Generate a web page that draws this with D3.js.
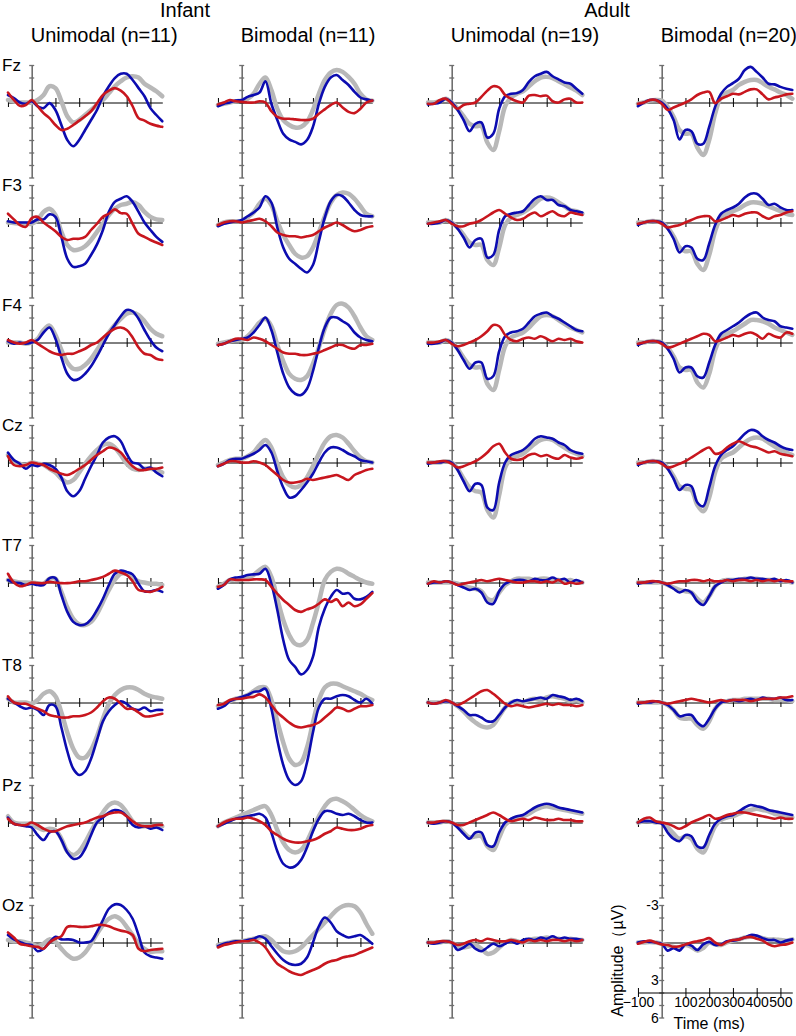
<!DOCTYPE html>
<html>
<head>
<meta charset="utf-8">
<script src="https://cdn.jsdelivr.net/npm/d3@7"></script>
<style>
  body { margin: 0; background: #fff; }
  svg { display: block; font-family: "Liberation Sans", Arial, sans-serif; }
</style>
</head>
<body>
<svg id="chart" width="796" height="1036"></svg>
<script>
// time points (ms) shared by every waveform
var times = [-100, -75, -50, -25, 0, 25, 50, 75, 100, 125, 150, 175, 200, 225, 250, 275, 300, 325, 350, 375, 400, 425, 450, 475, 500, 525, 550];
var electrodes = ["Fz", "F3", "F4", "Cz", "T7", "T8", "Pz", "Oz"];
var groupTitles = ["Unimodal (n=11)", "Bimodal (n=11)", "Unimodal (n=19)", "Bimodal (n=20)"];
var ageTitles = ["Infant", "Adult"];
var xTicks = [-100, 100, 200, 300, 400, 500];
var ampLabels = [-3, 3, 6];

// amplitudes in µV (negative up), one row per electrode
var infUniGray = [
  [-0.2,-0.1,0,0,0,-0.2,-0.6,-1.3,-1.15,-0.1,1.1,1.6,1.4,1.0,0.6,0.2,-0.2,-0.75,-1.3,-1.7,-2.0,-2.1,-2.0,-1.5,-1.2,-0.9,-0.5],
  [0,0.05,0.1,0.1,0.1,-0.2,-0.85,-1.1,-0.6,0.75,1.8,2.2,2.15,1.9,1.4,0.75,0.1,-0.6,-1.1,-1.4,-1.5,-1.65,-1.4,-0.85,-0.45,-0.25,-0.2],
  [0,0,0,0.1,0,-0.3,-1.0,-1.35,-0.6,0.6,1.6,2.1,2.1,1.8,1.3,0.6,-0.1,-0.8,-1.4,-1.9,-2.3,-2.4,-2.2,-1.7,-1.1,-0.7,-0.5],
  [-0.6,-0.1,0.1,0.2,0,0.1,0.2,0.5,0.8,1.3,1.6,1.4,0.8,0.1,-0.5,-1.0,-1.4,-1.5,-1.2,-0.6,0.1,0.5,0.6,0.5,0.5,0.6,0.8],
  [-0.2,-0.1,0,0,0,0.05,0.1,-0.3,-0.3,0.75,2.0,2.9,3.35,3.4,3.15,2.5,1.55,0.6,-0.2,-0.7,-0.7,-0.4,-0.1,0,0.1,0.1,0.2],
  [-0.3,0,0,0,0.1,-0.2,-0.7,-0.9,-0.5,0.8,2.4,3.7,4.4,4.4,3.8,2.7,1.3,0.1,-0.6,-1.0,-1.2,-1.2,-1.0,-0.7,-0.5,-0.4,-0.3],
  [-0.5,0,0.1,0.1,0.1,0.4,0.6,0.5,0.6,1.3,2.3,2.6,2.3,1.6,0.7,-0.1,-0.8,-1.4,-1.6,-1.4,-0.8,-0.1,0.3,0.3,0.3,0.3,0.3],
  [-0.2,-0.1,-0.1,0,0.1,0.3,0.1,-0.25,-0.05,0.5,1.0,1.3,1.2,0.8,0.1,-0.7,-1.4,-1.9,-2.1,-1.85,-1.25,-0.6,0.1,0.5,0.75,0.7,0.7]
];
var infUniBlue = [
  [-0.6,-0.35,0,0.1,-0.1,0.3,0.45,0.05,0.6,1.8,3.0,3.5,3.0,2.2,1.4,0.6,-0.5,-1.3,-1.95,-2.3,-2.3,-1.8,-1.15,-0.5,0.45,1.0,1.5],
  [-0.1,0,0,0,0,-0.25,-0.25,-0.65,-0.45,1.15,2.9,3.55,3.5,3.3,2.6,1.75,0.6,-0.85,-1.65,-1.9,-2.1,-1.65,-0.85,0,0.6,1.15,1.55],
  [-0.1,0.1,0,0.1,0,-0.2,-0.8,-1.2,-0.3,1.2,2.5,3.0,2.9,2.5,1.9,1.1,0.2,-0.7,-1.4,-2.1,-2.6,-2.5,-1.9,-1.0,-0.2,0.4,0.7],
  [-0.8,-0.2,0.1,0.5,0.2,0.3,0.1,0.2,0.5,1.2,2.3,2.7,2.3,1.3,0.3,-0.6,-1.6,-2.0,-2.1,-1.7,-0.7,0,0.1,0.5,0.4,0.8,1.1],
  [-0.2,0,0.05,0.2,0.1,0.2,0.2,-0.35,-0.35,1.0,2.35,3.15,3.4,3.35,2.95,2.2,1.3,0.2,-0.7,-0.95,-0.85,-0.65,0.1,0.7,0.7,0.6,0.75],
  [-0.3,0,0.3,0.5,0.4,0.6,1.0,0.2,0.3,2.0,3.9,5.3,5.8,5.5,4.5,3.0,1.5,0.7,0.2,-0.1,0.1,0.5,0.6,0.4,0.7,0.6,0.6],
  [-0.4,0.1,0.2,0.3,0.4,1.0,1.4,0.8,0.7,1.4,2.4,2.9,2.8,2.1,1.0,0,-0.4,-0.8,-1.0,-0.9,-0.5,0.2,0.4,0.3,0.5,0.4,0.6],
  [-0.6,-0.25,-0.05,0.15,0.2,0.7,0.5,0,-0.45,-0.25,-0.25,-0.2,0,0,-0.1,-0.85,-1.8,-2.7,-3.05,-3.0,-2.6,-1.9,-0.6,0.8,1.1,1.2,1.3]
];
var infUniRed = [
  [-0.8,-0.2,0.27,0.2,-0.2,0.3,0.85,1.25,1.8,2.2,2.1,1.8,1.45,1.1,0.7,0.05,-0.6,-0.95,-1.15,-0.95,-0.5,0.3,1.25,1.45,1.7,1.85,1.95],
  [-0.7,-0.25,0.2,0.35,-0.35,-0.45,0,0.35,0.7,1.15,1.4,1.3,1.3,1.15,0.6,0.1,-0.45,-0.7,-1.05,-0.75,-0.7,0.1,0.9,1.15,1.4,1.6,1.8],
  [-0.2,0,0.1,0,-0.2,0.1,0.4,0.7,0.9,1.0,0.9,0.9,0.7,0.5,0.2,0,-0.4,-0.8,-1.1,-1.2,-1.0,-0.4,0.4,0.9,1.0,1.3,1.4],
  [-0.5,0.2,0.3,0.2,0,0.1,0.2,0.5,0.7,0.9,1.0,0.8,0.5,0.2,-0.2,-0.6,-0.9,-1.2,-1.1,-0.8,-0.2,0.3,0.6,0.6,0.5,0.5,0.4],
  [-0.7,0,0.3,0.2,0,0.05,0.05,-0.05,0,0.05,0.05,0,-0.1,-0.1,-0.2,-0.3,-0.45,-0.7,-0.95,-0.8,-0.6,-0.1,0.6,0.7,0.75,0.6,0.35],
  [-0.5,0,0.1,0.1,0.3,0.5,0.7,1.0,1.1,1.2,1.2,1.1,1.1,1.0,0.8,0.4,-0.1,-0.4,-0.3,0.1,0.5,0.5,0.8,1.1,1.1,1.0,0.9],
  [-0.3,0.1,0.2,0.2,0,0.2,0.5,0.7,0.7,0.5,0.3,0.2,0.1,0,-0.2,-0.4,-0.5,-0.7,-0.8,-0.8,-0.5,-0.1,0.2,0.3,0.3,0.2,0.2],
  [-0.8,-0.4,0.1,0.2,0.3,0.35,0.5,0,-0.3,-0.5,-1.25,-1.3,-1.25,-1.25,-1.3,-1.4,-1.4,-1.3,-1.1,-0.95,-0.85,-0.6,0.5,0.7,0.6,0.55,0.5]
];

var infBiGray = [
  [0.2,0.1,0,-0.1,-0.15,-0.3,-0.7,-1.5,-2.0,-1.0,0.5,1.4,1.8,2.0,1.95,1.55,0.6,-0.7,-1.8,-2.4,-2.6,-2.45,-2.05,-1.5,-0.7,-0.25,-0.15],
  [0.2,0,-0.1,-0.1,-0.1,-0.4,-0.8,-1.5,-1.9,-1.4,-0.1,1.0,1.8,2.5,2.8,2.7,2.0,0.8,-0.5,-1.6,-2.2,-2.4,-2.3,-1.9,-1.3,-0.7,-0.5],
  [0.1,0,-0.1,-0.2,-0.2,-0.5,-1.0,-1.6,-1.9,-1.3,0.2,1.5,2.5,2.9,3.0,2.7,1.7,0.4,-1.1,-2.3,-3.0,-3.1,-2.8,-2.1,-1.2,-0.5,-0.2],
  [0.2,0,-0.2,-0.3,-0.3,-0.5,-0.8,-1.4,-1.8,-1.2,0.1,1.2,1.8,2.0,1.8,1.2,0.3,-0.7,-1.6,-2.1,-2.2,-2.0,-1.5,-0.9,-0.4,-0.1,0],
  [0.35,0.1,-0.2,-0.25,-0.25,-0.4,-0.6,-1.0,-1.25,-0.45,1.3,3.0,4.2,4.9,5.0,4.6,3.25,1.55,-0.2,-0.85,-1.1,-1.0,-0.7,-0.45,-0.2,0,0.1],
  [0.3,0.1,-0.1,-0.3,-0.4,-0.6,-0.9,-1.2,-1.2,-0.2,1.5,3.2,4.5,5.0,4.8,3.6,1.6,-0.2,-1.2,-1.5,-1.5,-1.3,-1.1,-0.9,-0.7,-0.4,-0.2],
  [0.3,0,-0.2,-0.4,-0.6,-0.8,-1.0,-1.2,-1.3,-0.6,0.6,1.6,2.2,2.4,2.2,1.5,0.5,-0.5,-1.3,-1.8,-1.9,-1.7,-1.4,-1.0,-0.6,-0.3,-0.1],
  [0.2,0.1,0,-0.1,-0.1,-0.2,-0.3,-0.4,-0.5,-0.2,0.3,0.7,0.8,0.7,0.4,-0.1,-0.6,-1.1,-1.6,-2.1,-2.6,-2.9,-3.0,-2.9,-2.4,-1.5,-0.7]
];
var infBiBlue = [
  [0.3,0.1,0,-0.15,-0.2,-0.45,-0.6,-0.8,-1.7,0.1,1.4,2.5,2.95,3.15,3.35,3.0,1.95,0.1,-1.25,-2.0,-2.2,-1.8,-1.4,-0.85,-0.4,-0.25,-0.15],
  [0.3,0.1,0,-0.1,-0.2,-0.5,-0.8,-1.2,-2.1,-1.6,0.4,2.0,2.9,3.3,3.7,4.0,3.4,1.5,-0.4,-1.7,-2.2,-2.1,-1.6,-1.0,-0.6,-0.5,-0.5],
  [0.2,0.1,-0.1,-0.2,-0.3,-0.4,-0.8,-1.4,-2.0,-1.0,0.8,2.5,3.6,4.1,4.2,3.7,2.3,0.4,-1.2,-2.0,-2.0,-1.7,-1.4,-0.8,-0.4,-0.2,-0.1],
  [0.3,0.1,-0.2,-0.3,-0.3,-0.5,-0.7,-1.0,-1.4,-0.8,0.7,2.0,2.8,2.7,2.2,1.6,0.9,0,-0.8,-1.2,-1.2,-1.0,-0.7,-0.5,-0.2,-0.1,0],
  [0.5,0.2,-0.25,-0.4,-0.45,-0.6,-0.65,-0.7,-1.1,0.1,2.2,4.6,6.2,6.75,7.35,7.0,5.95,3.55,2.1,1.15,0.6,0.9,0.85,1.3,1.35,1.15,0.75],
  [0.5,0.3,-0.1,-0.3,-0.45,-0.6,-0.85,-0.9,-1.1,0.5,3.0,5.0,6.2,6.6,6.3,4.8,2.4,0.4,-0.3,-0.3,-0.5,-0.6,-0.5,-0.2,0,-0.3,0.1],
  [0.3,0.1,-0.1,-0.3,-0.4,-0.5,-0.6,-0.7,-0.4,0.8,2.3,3.3,3.6,3.5,3.0,2.0,0.7,-0.3,-0.9,-0.9,-0.7,-0.6,-0.7,-0.5,-0.2,0,0],
  [0.3,0.1,0,-0.1,-0.1,-0.2,-0.3,-0.5,-0.3,0.3,0.9,1.4,1.7,1.8,1.7,1.2,0,-1.3,-2.0,-1.6,-0.9,-0.6,-0.4,-0.5,-0.6,-0.3,0.1]
];
var infBiRed = [
  [0.15,0,-0.2,-0.1,-0.05,0,0,-0.1,0,0.7,1.15,1.3,1.3,1.35,1.4,1.4,1.3,0.9,0.55,0.2,0,0.4,0.75,0.85,0.5,0,-0.15],
  [0.2,0,-0.1,-0.1,0,-0.1,-0.2,-0.3,-0.1,0.3,0.8,1.0,1.1,1.1,1.2,1.1,1.0,0.7,0.4,0.2,0,0.2,0.5,0.7,0.6,0.4,0.3],
  [0.2,0.1,-0.1,-0.3,-0.3,-0.2,-0.4,-0.3,-0.1,0.2,0.5,0.8,0.9,0.9,1.0,1.0,0.9,0.8,0.6,0.4,0.2,0.2,0.4,0.5,0.2,0.2,0.1],
  [0.3,0.1,-0.1,-0.1,0,0,-0.1,0,0.2,0.6,1.0,1.4,1.6,1.6,1.5,1.3,1.4,1.3,1.2,1.1,1.0,1.2,1.4,1.0,0.8,0.6,0.5],
  [0.35,0.2,-0.25,-0.2,-0.2,-0.2,-0.25,-0.25,-0.2,0.35,0.9,1.4,1.8,2.2,2.35,2.15,2.0,1.7,1.35,1.55,1.35,1.9,1.6,1.9,1.75,1.3,0.85],
  [0.2,0.1,-0.2,-0.3,-0.3,-0.4,-0.45,-0.65,-0.4,0.2,0.8,1.2,1.6,1.9,2.0,1.9,1.8,1.6,1.2,0.8,0.4,0.5,0.7,0.5,0.3,0.3,0.2],
  [0.3,0,-0.2,-0.3,-0.3,-0.4,-0.3,-0.1,0.2,0.7,1.0,1.3,1.5,1.6,1.6,1.5,1.4,1.2,0.9,0.7,0.4,0.5,0.6,0.6,0.5,0.3,0.2],
  [0.4,0.2,0.1,0,-0.1,-0.1,-0.2,0,0.4,1.1,1.7,2.0,2.3,2.5,2.6,2.4,2.2,2.0,1.7,1.5,1.4,1.2,1.1,1.0,0.8,0.6,0.4]
];

var adUniGray = [
  [0,0,-0.1,-0.3,0,0.5,1.1,1.7,1.9,1.9,3.2,3.8,2.3,0.3,-0.4,-0.7,-0.9,-1.3,-1.7,-2.0,-2.05,-1.95,-1.7,-1.45,-1.2,-0.95,-0.6],
  [0,0,0,-0.2,0,0.4,1.0,1.6,1.8,1.8,3.0,3.4,2.0,0.2,-0.4,-0.6,-0.8,-1.1,-1.5,-1.9,-2.0,-1.9,-1.6,-1.3,-1.0,-0.9,-0.7],
  [0,0,0,-0.2,0,0.5,1.2,1.8,2.0,2.0,3.3,3.8,2.2,0.3,-0.4,-0.6,-0.8,-1.2,-1.7,-2.1,-2.2,-2.1,-1.8,-1.5,-1.2,-1.0,-0.8],
  [0,0,0,-0.1,0,0.5,1.3,2.0,2.3,2.4,3.8,4.4,2.6,0.4,-0.3,-0.5,-0.7,-1.1,-1.5,-1.8,-1.9,-1.8,-1.5,-1.2,-0.9,-0.7,-0.5],
  [0,0,0,0,0,0.1,0.3,0.4,0.5,0.7,1.3,1.4,0.8,0.2,-0.1,-0.3,-0.3,-0.3,-0.2,-0.3,-0.3,-0.2,-0.2,-0.1,-0.2,0,0],
  [0,0,0,-0.1,0,0.3,0.7,1.2,1.6,1.9,2.0,1.8,1.1,0.4,0,-0.1,0,-0.2,-0.3,-0.2,-0.4,-0.5,-0.4,-0.3,-0.1,-0.2,0],
  [0,0,0,-0.1,0,0.3,0.8,1.2,1.1,1.1,1.9,2.2,1.2,0.2,-0.2,-0.4,-0.5,-0.7,-1.0,-1.2,-1.3,-1.2,-1.1,-1.0,-0.9,-0.8,-0.7],
  [0,0,0,-0.1,0,0.3,0.4,0.3,0.2,0.5,0.9,0.8,0.4,0,-0.2,-0.1,0,-0.2,-0.3,-0.3,-0.4,-0.3,-0.3,-0.2,-0.3,-0.2,-0.2]
];
var adUniBlue = [
  [0.15,0.1,0,-0.3,0,0.6,1.4,2.3,1.7,1.6,2.8,2.5,0.5,-0.5,-0.7,-0.75,-1.0,-1.65,-2.1,-2.3,-2.45,-2.1,-1.85,-1.6,-1.5,-1.1,-0.7],
  [0.1,0.1,0,-0.2,0,0.5,1.2,2.0,1.4,1.3,2.8,2.6,0.6,-0.5,-0.7,-0.8,-0.9,-1.4,-1.9,-2.1,-1.8,-1.8,-1.4,-1.3,-1.0,-0.9,-0.8],
  [0.1,0.1,0,-0.2,0,0.6,1.4,2.1,1.6,1.6,2.9,2.7,0.7,-0.5,-0.8,-0.9,-1.1,-1.6,-2.1,-2.3,-2.4,-2.1,-1.9,-1.6,-1.3,-1.0,-0.9],
  [0.1,0,0,-0.1,0,0.6,1.5,2.3,1.7,1.8,3.6,3.8,1.6,0,-0.6,-0.8,-1.0,-1.4,-1.9,-2.1,-2.0,-1.9,-1.6,-1.4,-1.0,-0.8,-0.7],
  [0.1,0,0,-0.1,0,0.2,0.4,0.6,0.5,0.8,1.6,1.7,0.7,0.1,-0.1,-0.2,-0.2,-0.1,-0.3,-0.2,-0.2,-0.4,-0.2,-0.3,0,-0.2,0],
  [0,0.1,0,-0.1,0,0.3,0.6,1.0,1.0,1.2,1.5,1.5,1.0,0.4,0,-0.2,-0.1,-0.2,-0.3,-0.4,-0.3,-0.6,-0.5,-0.4,-0.2,-0.3,-0.1],
  [0,0.1,0,-0.1,0,0.4,0.9,1.3,0.8,0.8,1.8,1.9,0.8,0,-0.3,-0.5,-0.6,-0.9,-1.2,-1.4,-1.5,-1.4,-1.2,-1.1,-1.0,-0.9,-0.8],
  [0,0.1,0,-0.1,0,0.6,0.4,0.1,0.5,0.7,0.4,0.1,0.3,0.1,-0.1,0.1,-0.2,-0.3,-0.2,-0.4,-0.3,-0.5,-0.3,-0.4,-0.3,-0.3,-0.2]
];
var adUniRed = [
  [0.1,0.1,-0.2,-0.3,0.1,0.5,0.2,0.1,0,-0.45,-0.95,-1.3,-1.2,-0.6,-0.3,-0.1,0,-0.55,-0.6,-0.5,-0.55,-0.1,0,-0.25,-0.3,0,0],
  [0.1,0,-0.1,-0.2,0.1,0.3,0.3,0.1,0,-0.2,-0.5,-0.8,-1.0,-0.7,-0.4,-0.2,-0.3,-0.6,-0.8,-0.5,-0.7,-0.9,-0.6,-0.5,-0.8,-0.7,-0.6],
  [0,0,-0.1,-0.2,0.1,0.3,0.2,0,-0.2,-0.5,-0.9,-1.4,-1.3,-0.6,-0.2,-0.1,-0.3,-0.4,-0.3,-0.5,-0.3,-0.1,-0.3,-0.2,-0.3,-0.1,0],
  [0,0,-0.1,-0.1,0.1,0.4,0.3,0.1,-0.1,-0.4,-0.8,-1.3,-1.5,-0.8,-0.3,-0.2,-0.3,-0.6,-0.7,-0.5,-0.6,-0.4,-0.3,-0.6,-0.4,-0.3,-0.4],
  [0.1,-0.1,0,-0.1,0,0.2,0.1,0,-0.1,-0.2,-0.1,-0.2,-0.3,-0.2,-0.1,0,0,-0.1,-0.1,0,-0.1,0,-0.2,0.1,0,0.1,0],
  [0,0.1,0,-0.2,0,0.2,0,-0.3,-0.6,-0.9,-1.0,-0.7,-0.3,0.1,0.3,0.2,0.3,0.4,0.3,0.2,0.1,0.2,0.1,0.2,0.2,0.3,0.2],
  [0,0,-0.1,-0.1,0,0.2,0.2,0,-0.2,-0.4,-0.6,-0.8,-0.6,-0.3,-0.1,-0.2,-0.3,-0.2,-0.4,-0.3,-0.2,-0.2,-0.3,-0.2,-0.2,-0.1,-0.1],
  [0,0,-0.1,-0.1,0,0.2,0.1,-0.1,-0.2,-0.1,-0.3,-0.2,-0.1,-0.1,-0.2,-0.1,0,-0.2,-0.1,-0.2,-0.1,-0.2,-0.2,-0.1,-0.2,-0.1,-0.2]
];

var adBiGray = [
  [0.1,0,-0.15,-0.2,-0.15,0.35,1.15,2.2,2.5,2.5,3.6,4.2,3.0,0.9,-0.45,-0.8,-1.0,-1.4,-1.65,-1.8,-1.8,-1.55,-1.25,-1.05,-0.8,-0.6,-0.3],
  [0,0,-0.1,-0.1,0,0.4,1.1,2.0,2.3,2.3,3.3,3.8,2.6,0.7,-0.4,-0.7,-0.9,-1.1,-1.4,-1.6,-1.6,-1.5,-1.3,-1.1,-0.9,-0.7,-0.6],
  [0,0,-0.1,-0.1,0,0.4,1.1,2.0,2.2,2.2,3.2,3.6,2.5,0.6,-0.4,-0.7,-0.9,-1.2,-1.5,-1.8,-1.8,-1.7,-1.5,-1.2,-1.0,-0.8,-0.6],
  [0,0,-0.1,-0.1,0,0.4,1.1,1.9,2.1,2.2,3.4,3.9,2.8,0.8,-0.3,-0.6,-0.8,-1.2,-1.6,-1.9,-2.0,-1.9,-1.6,-1.3,-1.0,-0.8,-0.6],
  [0,0,0,0,0,0.2,0.4,0.6,0.7,0.8,1.3,1.6,1.1,0.3,-0.1,-0.2,-0.2,-0.2,-0.3,-0.3,-0.3,-0.2,-0.2,-0.2,-0.1,-0.1,0],
  [0,0,0,0,0,0.2,0.6,1.2,1.3,1.3,1.8,2.1,1.5,0.5,0,-0.1,-0.2,-0.2,-0.3,-0.3,-0.3,-0.3,-0.3,-0.2,-0.2,-0.2,-0.1],
  [0,-0.1,-0.1,0,0,0.4,0.9,1.3,1.1,1.3,2.1,2.4,1.4,0.3,-0.2,-0.4,-0.5,-0.7,-0.9,-1.0,-1.1,-1.0,-0.9,-0.7,-0.6,-0.5,-0.4],
  [0,0,-0.05,0,0.1,0.25,0.35,0.45,0.2,0.35,0.65,0.45,0,0.15,0.2,0,-0.15,-0.25,-0.4,-0.45,-0.45,-0.35,-0.25,-0.25,-0.2,-0.15,-0.25]
];
var adBiBlue = [
  [0.3,0,-0.2,-0.2,0,0.5,1.4,2.95,2.2,2.3,3.3,3.3,1.95,0.35,-0.7,-1.25,-1.55,-1.9,-2.6,-2.85,-2.45,-2.0,-1.5,-1.45,-1.25,-1.1,-1.0],
  [0.2,0,-0.1,-0.1,0,0.5,1.3,2.4,1.9,2.0,2.9,3.0,1.7,0.2,-0.7,-1.0,-1.2,-1.5,-2.0,-2.3,-2.3,-1.9,-1.4,-1.5,-1.2,-1.0,-1.0],
  [0.2,0,-0.1,-0.1,0,0.5,1.3,2.4,2.0,2.0,2.7,2.8,1.6,0.2,-0.7,-1.0,-1.3,-1.6,-2.0,-2.3,-2.4,-2.0,-1.8,-1.7,-1.3,-1.2,-1.1],
  [0.2,0,-0.1,-0.1,0,0.5,1.3,2.2,1.8,1.9,3.2,3.5,2.0,0.3,-0.6,-1.0,-1.3,-1.8,-2.3,-2.6,-2.5,-2.1,-1.8,-1.6,-1.3,-1.1,-1.0],
  [0.1,0,0,-0.1,0,0.2,0.5,0.8,0.6,0.8,1.5,1.8,1.1,0.3,0,-0.2,-0.2,-0.3,-0.3,-0.4,-0.3,-0.3,-0.2,-0.3,-0.1,-0.2,0],
  [0.1,0,0,-0.1,0,0.2,0.6,1.1,1.0,1.0,1.6,1.9,1.3,0.5,0,-0.1,-0.2,-0.1,-0.2,-0.3,-0.2,-0.4,-0.3,-0.3,-0.4,-0.2,-0.2],
  [0,-0.1,-0.1,0,0.1,0.8,1.3,1.5,1.0,1.1,1.9,2.0,1.0,0.1,-0.3,-0.5,-0.6,-0.9,-1.2,-1.4,-1.3,-1.2,-1.0,-0.9,-0.8,-0.7,-0.6],
  [0,-0.1,-0.05,0,0.1,0.65,0.45,0.65,0.15,0.25,0.6,0.15,-0.05,0.2,0.15,-0.1,-0.15,-0.25,-0.4,-0.6,-0.55,-0.35,-0.2,-0.2,0,-0.15,-0.25]
];
var adBiRed = [
  [0.1,0,-0.2,-0.2,0.1,0.6,0.4,0.2,0,-0.25,-0.6,-0.8,-0.85,0.05,-0.3,-0.5,-0.7,-0.65,-0.85,-1.05,-1.05,-0.65,-0.25,-0.4,-0.5,-0.65,-0.7],
  [0.1,0,-0.1,-0.1,0.1,0.4,0.3,0.2,0,-0.2,-0.4,-0.5,-0.5,-0.1,-0.2,-0.4,-0.6,-0.5,-0.7,-0.8,-0.8,-0.5,-0.3,-0.5,-0.6,-0.8,-0.9],
  [0.1,0,-0.1,-0.1,0.1,0.4,0.3,0.1,-0.1,-0.3,-0.5,-0.7,-0.6,-0.1,-0.2,-0.4,-0.6,-0.5,-0.7,-0.8,-0.6,-0.3,-0.7,-0.5,-0.4,-0.8,-0.7],
  [0.1,0,-0.1,-0.1,0.1,0.4,0.3,0.1,-0.1,-0.4,-0.7,-1.0,-1.2,-0.7,-0.8,-1.2,-1.5,-1.7,-1.5,-1.3,-1.2,-1.0,-0.8,-0.9,-0.7,-0.6,-0.5],
  [0,0,-0.1,-0.1,0,0.1,0,-0.1,-0.1,-0.2,-0.2,-0.1,-0.2,-0.1,-0.1,-0.2,-0.1,-0.2,-0.2,-0.1,-0.2,-0.1,-0.2,-0.1,-0.2,-0.1,-0.1],
  [0,0,-0.1,-0.1,0,0.1,0,-0.1,-0.2,-0.3,-0.2,-0.1,0,-0.1,-0.2,-0.1,-0.2,-0.2,-0.2,-0.1,-0.2,-0.3,-0.3,-0.3,-0.4,-0.4,-0.5],
  [0,-0.3,-0.4,-0.1,0,0.1,0.3,0.5,0.3,0,-0.2,-0.4,-0.6,-0.3,-0.4,-0.6,-0.7,-0.8,-0.8,-0.7,-0.6,-0.5,-0.4,-0.3,-0.4,-0.3,-0.3],
  [0.1,-0.05,-0.15,0,0.15,0.2,0.35,0.3,0.15,0,-0.1,-0.2,-0.35,0,0.2,-0.05,-0.2,-0.25,-0.4,-0.45,-0.3,-0.15,0.15,0.3,0.2,0.15,0]
];

var columns = [
  [infUniGray, infUniBlue, infUniRed],
  [infBiGray, infBiBlue, infBiRed],
  [adUniGray, adUniBlue, adUniRed],
  [adBiGray, adBiBlue, adBiRed]
];
var colors = ["#b8b8b8", "#0c0cb0", "#c8161e"];
var widths = [4.5, 2.6, 2.6];

var svg = d3.select("#chart");
var colX = c => 31.7 + 210 * c;
var rowY = r => 102.5 + 120 * r;

// headings
svg.selectAll("text.age").data(ageTitles).join("text")
  .attr("class", "age")
  .attr("x", (d, i) => i == 0 ? 185 : 607)
  .attr("y", 16.5)
  .attr("text-anchor", "middle")
  .style("font-size", "20px")
  .text(d => d);

svg.selectAll("text.group").data(groupTitles).join("text")
  .attr("class", "group")
  .attr("x", (d, i) => colX(i) - 1)
  .attr("y", 41.5)
  .style("font-size", "20px")
  .text(d => d);

svg.selectAll("text.elec").data(electrodes).join("text")
  .attr("class", "elec")
  .attr("x", 2)
  .attr("y", (d, i) => rowY(i) - 31.5)
  .style("font-size", "17px")
  .text(d => d);

columns.forEach((sets, c) => {
  electrodes.forEach((el, r) => {
    var x0 = colX(c), y0 = rowY(r);
    var x = d3.scaleLinear().domain([-100, 550]).range([x0 - 23.75, x0 + 130.6]);
    var y = d3.scaleLinear().domain([-3, 6]).range([y0 - 37.5, y0 + 75]);
    var last = (c == 3 && r == 7);
    var g = svg.append("g");

    // amplitude axis, ticks cross the line
    var ya = g.append("g")
      .attr("transform", "translate(" + x0 + ",0)")
      .attr("color", "#6f6f6f")
      .call(d3.axisRight(y).tickValues(d3.range(-3, 7)).tickSize(2.5).tickSizeOuter(0).tickFormat(""));
    ya.select(".domain").attr("stroke-width", 1.6);
    ya.selectAll(".tick line").attr("x1", -2.5).attr("x2", 2.5).attr("stroke-width", 1.3);

    // zero line with time ticks
    var xa = g.append("g")
      .attr("transform", "translate(0," + y0 + ")")
      .attr("color", "#000")
      .call(d3.axisBottom(x).tickValues(last ? [] : xTicks).tickSize(4.5).tickSizeOuter(0).tickFormat(""));
    xa.selectAll(".tick line").attr("y1", -4.5).attr("y2", 4.5);

    var line = d3.line()
      .x((d, i) => x(times[i]))
      .y(d => y(d))
      .curve(d3.curveCatmullRom.alpha(0.5));

    sets.forEach((s, k) => {
      g.append("path")
        .datum(s[r])
        .attr("fill", "none")
        .attr("stroke", colors[k])
        .attr("stroke-width", widths[k])
        .attr("stroke-linejoin", "round")
        .attr("stroke-linecap", "round")
        .attr("d", line);
    });

    if (last) {
      // separate time axis with labels
      var ta = g.append("g")
        .attr("transform", "translate(0," + y(4) + ")")
        .attr("color", "#000")
        .call(d3.axisBottom(x).tickValues(xTicks).tickSize(4.5).tickSizeOuter(0).tickPadding(0));
      ta.selectAll(".tick line").attr("y1", -4.5).attr("y2", 4.5);
      ta.selectAll(".tick text").style("font-size", "14px").style("font-family", "'Liberation Sans', Arial, sans-serif");

      g.selectAll("text.amp").data(ampLabels).join("text")
        .attr("class", "amp")
        .attr("x", x0 - 3)
        .attr("y", d => y(d) + 5)
        .attr("text-anchor", "end")
        .style("font-size", "14px")
        .text(d => d);

      g.append("text")
        .attr("transform", "translate(623," + (y0 + 18) + ") rotate(-90)")
        .attr("text-anchor", "middle")
        .style("font-size", "16px")
        .text("Amplitude（µV)");

      g.append("text")
        .attr("x", x(200))
        .attr("y", 1029)
        .attr("text-anchor", "middle")
        .style("font-size", "16px")
        .text("Time (ms)");
    }
  });
});
</script>
</body>
</html>
